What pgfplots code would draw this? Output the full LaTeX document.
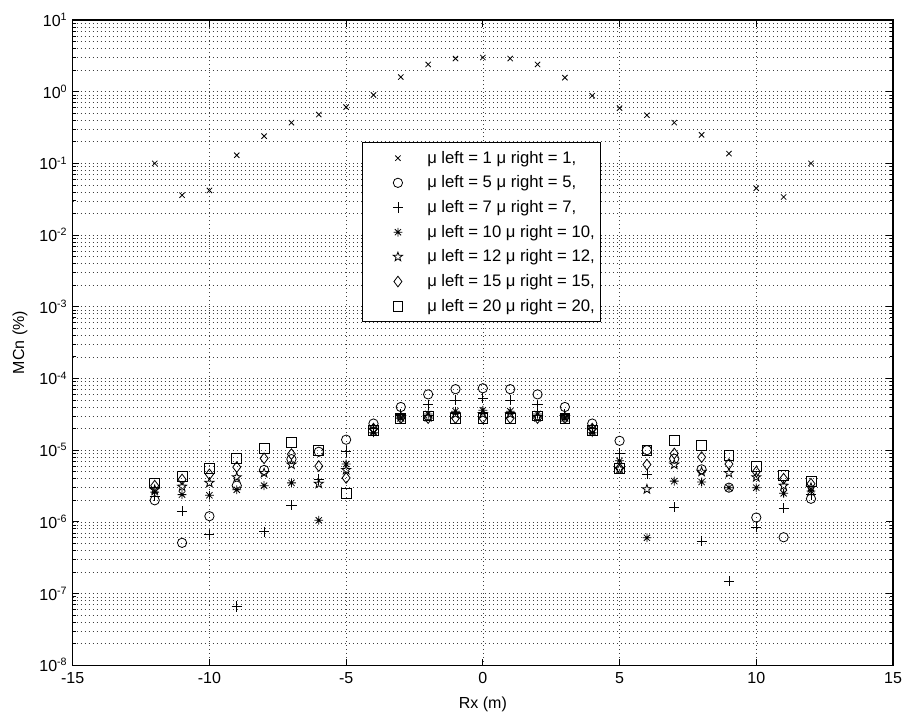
\documentclass[border=0pt]{standalone}
\usepackage{fontspec}
\setmainfont{Liberation Sans}
\usepackage{pgfplots}
\pgfplotsset{compat=1.18}
\usetikzlibrary{plotmarks}

% outline five-pointed star
\pgfdeclareplotmark{pentagram}{%
  \pgfpathmoveto{\pgfqpointpolar{90}{\pgfplotmarksize}}%
  \pgfpathlineto{\pgfqpointpolar{126}{0.4\pgfplotmarksize}}%
  \pgfpathlineto{\pgfqpointpolar{162}{\pgfplotmarksize}}%
  \pgfpathlineto{\pgfqpointpolar{198}{0.4\pgfplotmarksize}}%
  \pgfpathlineto{\pgfqpointpolar{234}{\pgfplotmarksize}}%
  \pgfpathlineto{\pgfqpointpolar{270}{0.4\pgfplotmarksize}}%
  \pgfpathlineto{\pgfqpointpolar{306}{\pgfplotmarksize}}%
  \pgfpathlineto{\pgfqpointpolar{342}{0.4\pgfplotmarksize}}%
  \pgfpathlineto{\pgfqpointpolar{18}{\pgfplotmarksize}}%
  \pgfpathlineto{\pgfqpointpolar{54}{0.4\pgfplotmarksize}}%
  \pgfpathclose
  \pgfusepathqstroke}
% eight-spoke asterisk (plus and cross together)
\pgfdeclareplotmark{spoke8}{%
  \pgfpathmoveto{\pgfqpoint{-\pgfplotmarksize}{0pt}}%
  \pgfpathlineto{\pgfqpoint{\pgfplotmarksize}{0pt}}%
  \pgfpathmoveto{\pgfqpoint{0pt}{-\pgfplotmarksize}}%
  \pgfpathlineto{\pgfqpoint{0pt}{\pgfplotmarksize}}%
  \pgfpathmoveto{\pgfqpoint{-0.707\pgfplotmarksize}{-0.707\pgfplotmarksize}}%
  \pgfpathlineto{\pgfqpoint{0.707\pgfplotmarksize}{0.707\pgfplotmarksize}}%
  \pgfpathmoveto{\pgfqpoint{-0.707\pgfplotmarksize}{0.707\pgfplotmarksize}}%
  \pgfpathlineto{\pgfqpoint{0.707\pgfplotmarksize}{-0.707\pgfplotmarksize}}%
  \pgfusepathqstroke}

\pgfplotstableread{
x    m1     m5       m7       m10      m12      m15      m20
-12  0.100  2.0e-6   2.3e-6   2.6e-6   2.8e-6   3.2e-6   3.5e-6
-11  0.036  5.1e-7   1.4e-6   2.4e-6   3.1e-6   3.9e-6   4.3e-6
-10  0.042  1.2e-6   6.6e-7   2.35e-6  3.5e-6   4.6e-6   5.6e-6
-9   0.130  3.2e-6   6.6e-8   2.8e-6   4.2e-6   5.8e-6   7.6e-6
-8   0.240  5.3e-6   7.3e-7   3.2e-6   4.8e-6   7.7e-6   1.05e-5
-7   0.370  7.5e-6   1.7e-6   3.5e-6   6.3e-6   8.8e-6   1.3e-5
-6   0.480  9.5e-6   3.9e-6   1.05e-6  3.4e-6   6.0e-6   9.8e-6
-5   0.610  1.4e-5   9.6e-6   6.4e-6   5.3e-6   4.1e-6   2.5e-6
-4   0.900  2.35e-5  2.0e-5   1.75e-5  1.9e-5   2.0e-5   1.9e-5
-3   1.600  4.0e-5   3.2e-5   2.8e-5   2.9e-5   2.8e-5   2.8e-5
-2   2.400  6.0e-5   4.3e-5   3.2e-5   2.9e-5   2.8e-5   3.0e-5
-1   2.900  7.1e-5   5.0e-5   3.5e-5   3.2e-5   2.8e-5   2.8e-5
0    3.000  7.3e-5   5.3e-5   3.6e-5   3.2e-5   2.8e-5   2.8e-5
1    2.900  7.1e-5   5.0e-5   3.5e-5   3.2e-5   2.8e-5   2.8e-5
2    2.400  6.0e-5   4.3e-5   3.2e-5   2.9e-5   2.8e-5   3.0e-5
3    1.570  4.0e-5   3.2e-5   2.8e-5   2.9e-5   2.8e-5   2.8e-5
4    0.880  2.35e-5  2.0e-5   1.75e-5  1.9e-5   2.0e-5   1.9e-5
5    0.590  1.35e-5  9.0e-6   7.1e-6   5.5e-6   5.6e-6   5.5e-6
6    0.470  1.0e-5   4.6e-6   6.0e-7   2.85e-6  6.3e-6   1.0e-5
7    0.370  7.6e-6   1.6e-6   3.7e-6   6.3e-6   9.0e-6   1.35e-5
8    0.250  5.4e-6   5.4e-7   3.6e-6   5.0e-6   8.0e-6   1.15e-5
9    0.137  3.0e-6   1.5e-7   3.0e-6   4.8e-6   6.4e-6   8.5e-6
10   0.045  1.15e-6  8.5e-7   3.0e-6   4.2e-6   5.0e-6   6.0e-6
11   0.034  6.1e-7   1.55e-6  2.5e-6   3.2e-6   4.0e-6   4.5e-6
12   0.100  2.1e-6   2.4e-6   2.7e-6   3.0e-6   3.4e-6   3.7e-6
}\mcn

\newcommand{\tlfont}{\fontsize{12}{14}\selectfont}
\newcommand{\lgfont}{\fontsize{12.5}{14}\selectfont}

\begin{document}
\begin{tikzpicture}
\path[use as bounding box] (-54.5pt,-36pt) rectangle (621.75pt,498.75pt);
\begin{axis}[
  at={(0pt,0pt)}, anchor=south west,
  scale only axis, width=615pt, height=483.75pt,
  xmin=-15, xmax=15,
  ymode=log, ymin=1e-8, ymax=1e1,
  xtick={-15,-10,-5,0,5,10,15},
  xticklabels={-15,-10,-5,0,5,10,15},
  ytick={1e-8,1e-7,1e-6,1e-5,1e-4,1e-3,1e-2,1e-1,1e0,1e1},
  yticklabels={10\textsuperscript{-8},10\textsuperscript{-7},10\textsuperscript{-6},10\textsuperscript{-5},10\textsuperscript{-4},10\textsuperscript{-3},10\textsuperscript{-2},10\textsuperscript{-1},10\textsuperscript{0},10\textsuperscript{1}},
  minor ytick={2e-8,3e-8,4e-8,5e-8,6e-8,7e-8,8e-8,9e-8,
               2e-7,3e-7,4e-7,5e-7,6e-7,7e-7,8e-7,9e-7,
               2e-6,3e-6,4e-6,5e-6,6e-6,7e-6,8e-6,9e-6,
               2e-5,3e-5,4e-5,5e-5,6e-5,7e-5,8e-5,9e-5,
               2e-4,3e-4,4e-4,5e-4,6e-4,7e-4,8e-4,9e-4,
               2e-3,3e-3,4e-3,5e-3,6e-3,7e-3,8e-3,9e-3,
               2e-2,3e-2,4e-2,5e-2,6e-2,7e-2,8e-2,9e-2,
               2e-1,3e-1,4e-1,5e-1,6e-1,7e-1,8e-1,9e-1,
               2,3,4,5,6,7,8,9},
  grid=both,
  major grid style={black!75, line width=0.5pt, dash pattern=on 0.5pt off 2.5pt},
  minor grid style={black!75, line width=0.5pt, dash pattern=on 0.5pt off 2.5pt},
  tick align=inside,
  major tick length=5pt, minor tick length=2.5pt,
  tick style={black, line width=0.6pt},
  axis line style={black, line width=0.9pt},
  tick label style={font=\tlfont},
  xticklabel style={yshift=-2pt},
  yticklabel style={xshift=-0.5pt},
  xlabel={Rx (m)}, ylabel={MCn (\%)},
  label style={font=\tlfont},
  xlabel style={at={(axis description cs:0.5,-0.06)}, anchor=center},
  ylabel style={at={(axis description cs:-0.0642,0.5)}, anchor=center},
  every axis plot/.append style={only marks, black, line width=0.6pt},
  legend image code/.code={\path[draw=none] (0pt,0pt) -- (44.7pt,0pt);
    \draw[mark repeat=2,mark phase=2,#1,only marks] plot coordinates {(8.7pt,0pt)(26.7pt,0pt)(44.7pt,0pt)};},
  legend style={at={(0.3524,0.8104)}, anchor=north west, draw=black, line width=0.8pt,
    fill=white, inner xsep=0pt, inner ysep=2.2pt, row sep=0pt,
    font=\lgfont, nodes={inner xsep=4pt, inner ysep=0pt, minimum height=18.5pt}},
  legend cell align=left,
]
\addplot[mark=x, mark size=2.8pt] table[x=x, y=m1] {\mcn};
\addlegendentry{μ left = 1 μ right = 1,}
\addplot[mark=o, mark size=3.5pt] table[x=x, y=m5] {\mcn};
\addlegendentry{μ left = 5 μ right = 5,}
\addplot[mark=+, mark size=3.8pt] table[x=x, y=m7] {\mcn};
\addlegendentry{μ left = 7 μ right = 7,}
\addplot[mark=spoke8, mark size=3.3pt] table[x=x, y=m10] {\mcn};
\addlegendentry{μ left = 10 μ right = 10,}
\addplot[mark=pentagram, mark size=3.6pt] table[x=x, y=m12] {\mcn};
\addlegendentry{μ left = 12 μ right = 12,}
\addplot[mark=diamond, mark size=4pt] table[x=x, y=m15] {\mcn};
\addlegendentry{μ left = 15 μ right = 15,}
\addplot[mark=square, mark size=3.7pt] table[x=x, y=m20] {\mcn};
\addlegendentry{μ left = 20 μ right = 20,}
\end{axis}
\end{tikzpicture}
\end{document}
